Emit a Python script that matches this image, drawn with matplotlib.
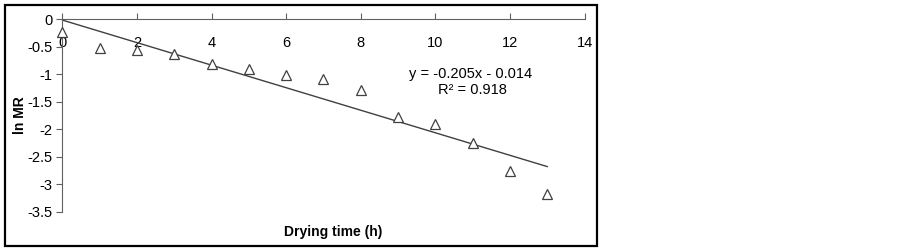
import matplotlib
matplotlib.use("Agg")
import matplotlib.pyplot as plt
from matplotlib.patches import Rectangle
import numpy as np

plt.rcParams['font.family'] = ['Liberation Sans', 'DejaVu Sans']

time_h = [0, 1, 2, 3, 4, 5, 6, 7, 8, 9, 10, 11, 12, 13]
ln_mr = [-0.23, -0.53, -0.56, -0.64, -0.81, -0.91, -1.02, -1.08, -1.29, -1.78, -1.91, -2.25, -2.76, -3.17]
slope = -0.205
intercept = -0.014
x_ticks = [0, 2, 4, 6, 8, 10, 12, 14]
y_ticks = [0, -0.5, -1, -1.5, -2, -2.5, -3, -3.5]
y_tick_labels = ['0', '-0.5', '-1', '-1.5', '-2', '-2.5', '-3', '-3.5']

W, H = 903, 250
fig = plt.figure(figsize=(W / 100, H / 100), dpi=100)
ax = fig.add_axes([62.3 / W, 1 - 211.7 / H, 522.2 / W, (211.7 - 19.3) / H])

ax.set_xlim(0, 14)
ax.set_ylim(-3.5, 0)

# trend line
fit_x = np.array([time_h[0], time_h[-1]])
ax.plot(fit_x, slope * fit_x + intercept, color='#404040', lw=1.0)

# data
ax.plot(time_h, ln_mr, linestyle='none', marker='^', markersize=6.5,
        markerfacecolor='white', markeredgecolor='#404040', markeredgewidth=0.9,
        clip_on=False, zorder=3)

for side in ['right', 'top']:
    ax.spines[side].set_visible(False)
ax.spines['bottom'].set_position(('data', 0))
ax.spines['bottom'].set_color('#606060')
ax.spines['left'].set_color('#606060')
ax.spines['bottom'].set_zorder(0)

ax.set_xticks(x_ticks)
ax.set_xticklabels([str(v) for v in x_ticks])
ax.set_yticks(y_ticks)
ax.set_yticklabels(y_tick_labels)
ax.tick_params(axis='x', direction='in', length=4, color='#606060', labelsize=10.5, pad=12)
ax.tick_params(axis='y', direction='out', length=4, color='#606060', labelsize=10.5, pad=3)

ax.text(10.95, -1.0, 'y = -0.205x - 0.014', ha='center', va='center', fontsize=10.5)
ax.text(11.0, -1.29, 'R² = 0.918', ha='center', va='center', fontsize=10.5)

fig.text(20.5 / W, 1 - 115 / H, 'ln MR', rotation=90, ha='center', va='center',
         fontsize=10, fontweight='bold')
fig.text(333 / W, 1 - 232 / H, 'Drying time (h)', ha='center', va='center',
         fontsize=10, fontweight='bold')

fig.patches.append(Rectangle((5 / W, 1 - 246 / H), 592 / W, 241 / H,
                             transform=fig.transFigure, fill=False,
                             edgecolor='black', lw=1.6))

fig.savefig('out.png', dpi=100)
